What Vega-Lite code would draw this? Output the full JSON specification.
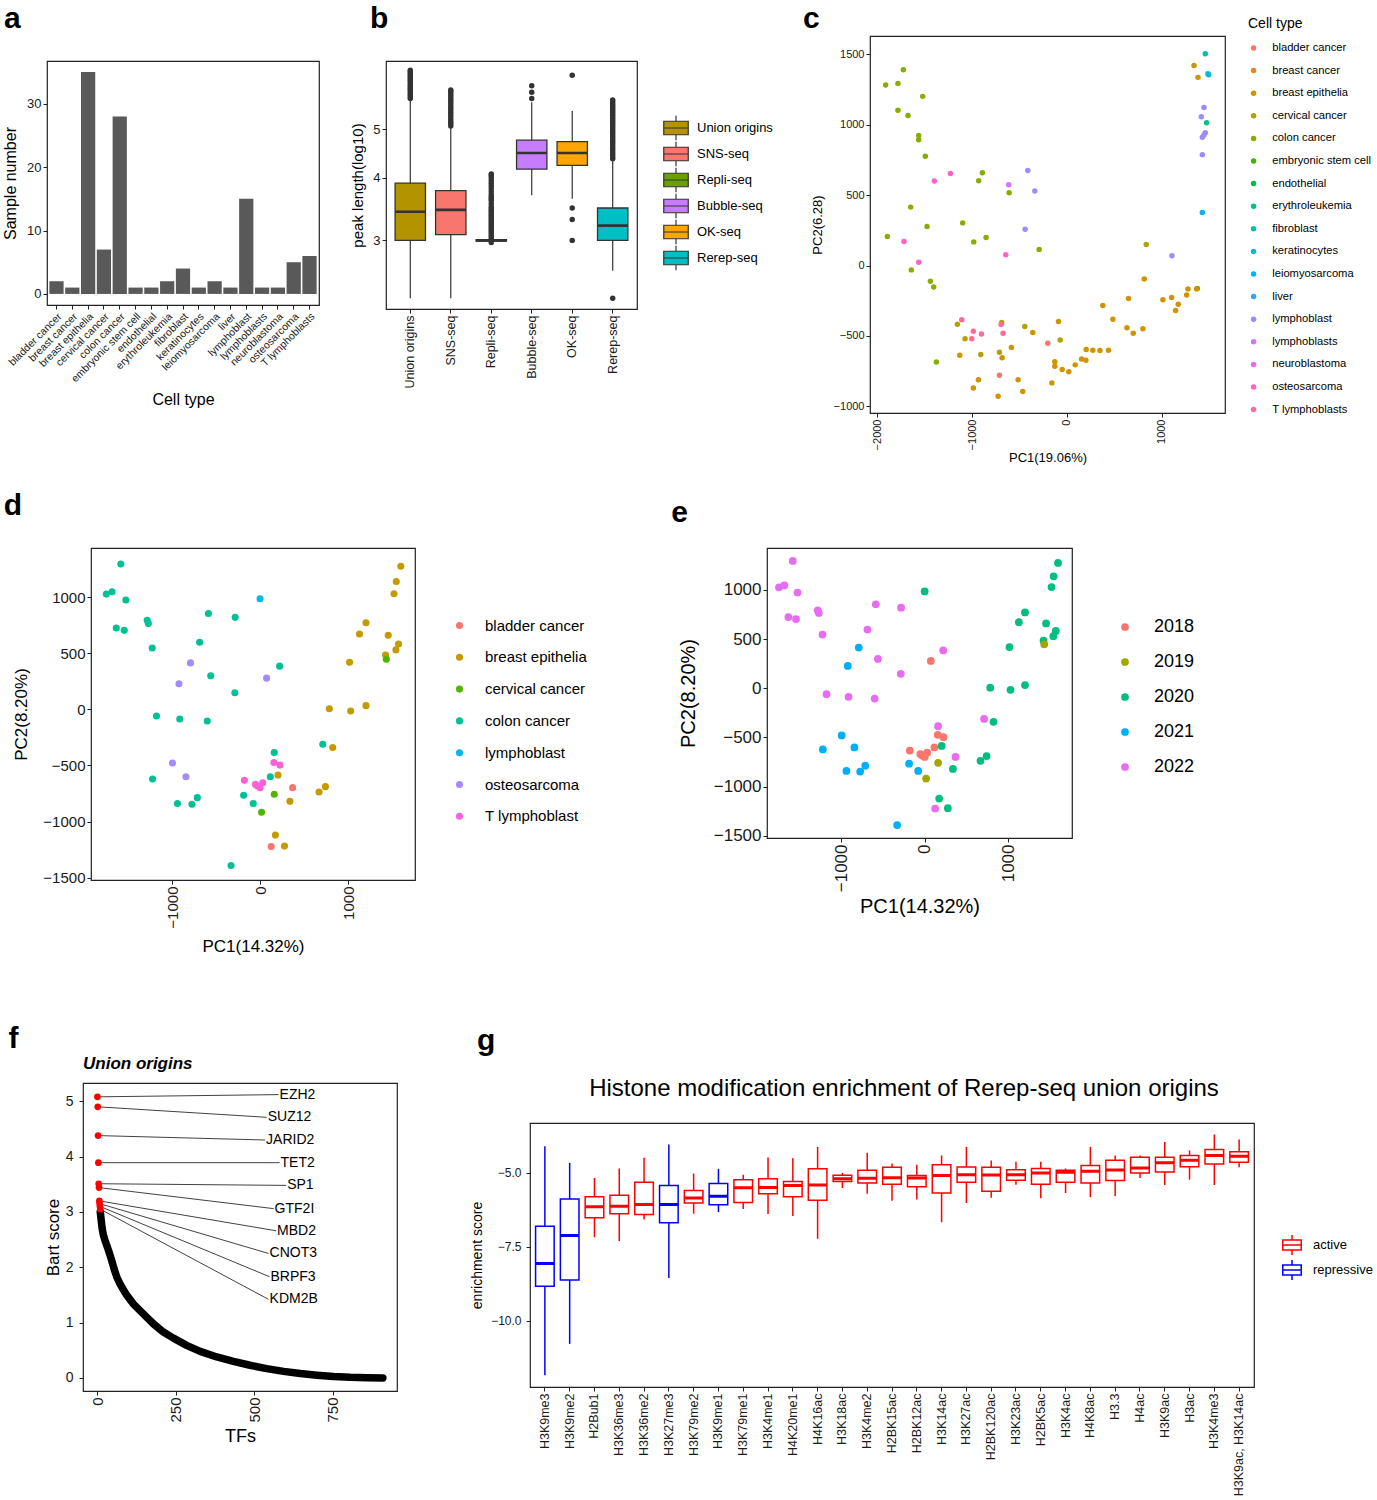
{
"$schema": "https://vega.github.io/schema/vega-lite/v6.json",
"background": "white",
"padding": {"left": 0, "top": 3, "right": 0, "bottom": 0},
"config": {
  "font": "Liberation Sans",
  "view": {"stroke": "#222", "strokeWidth": 1.2},
  "axis": {"grid": false, "domain": false, "tickColor": "#222", "tickSize": 4, "labelColor": "#1a1a1a", "titleColor": "#000", "titleFontWeight": "normal", "labelPadding": 2},
  "legend": {"titleFontWeight": "normal", "labelColor": "#000"},
  "title": {"fontSize": 30, "fontWeight": "bold", "anchor": "start", "frame": "bounds", "color": "#000"}
},
"datasets": {
  "a": [
    {"cell":"bladder cancer","n":2},{"cell":"breast cancer","n":1},{"cell":"breast epithelia","n":35},{"cell":"cervical cancer","n":7},{"cell":"colon cancer","n":28},{"cell":"embryonic stem cell","n":1},{"cell":"endothelial","n":1},{"cell":"erythroleukemia","n":2},{"cell":"fibroblast","n":4},{"cell":"keratinocytes","n":1},{"cell":"leiomyosarcoma","n":2},{"cell":"liver","n":1},{"cell":"lymphoblast","n":15},{"cell":"lymphoblasts","n":1},{"cell":"neuroblastoma","n":1},{"cell":"osteosarcoma","n":5},{"cell":"T lymphoblasts","n":6}
  ],
  "bbox": [
    {"method":"Union origins","lower":2.30,"q1":3.0,"median":3.42,"q3":3.90,"upper":5.72},
    {"method":"SNS-seq","lower":2.30,"q1":3.08,"median":3.45,"q3":3.77,"upper":5.05},
    {"method":"Repli-seq","lower":3.0,"q1":2.99,"median":3.0,"q3":3.01,"upper":3.0},
    {"method":"Bubble-seq","lower":3.69,"q1":4.16,"median":4.48,"q3":4.75,"upper":5.65},
    {"method":"OK-seq","lower":3.63,"q1":4.23,"median":4.48,"q3":4.72,"upper":5.43},
    {"method":"Rerep-seq","lower":2.61,"q1":3.0,"median":3.21,"q3":3.48,"upper":4.33}
  ],
  "bout": [
    {"method":"Union origins","v":5.75},{"method":"Union origins","v":5.8},{"method":"Union origins","v":5.85},{"method":"Union origins","v":5.9},{"method":"Union origins","v":5.95},{"method":"Union origins","v":6.0},{"method":"Union origins","v":6.05},{"method":"Union origins","v":6.1},{"method":"Union origins","v":6.15},{"method":"Union origins","v":6.2},{"method":"Union origins","v":6.25},{"method":"Union origins","v":6.3},{"method":"Union origins","v":6.35},{"method":"Union origins","v":6.4},{"method":"Union origins","v":6.45},{"method":"Union origins","v":6.5},{"method":"Union origins","v":6.55},
    {"method":"SNS-seq","v":5.07},{"method":"SNS-seq","v":5.12},{"method":"SNS-seq","v":5.17},{"method":"SNS-seq","v":5.22},{"method":"SNS-seq","v":5.28},{"method":"SNS-seq","v":5.34},{"method":"SNS-seq","v":5.4},{"method":"SNS-seq","v":5.46},{"method":"SNS-seq","v":5.52},{"method":"SNS-seq","v":5.58},{"method":"SNS-seq","v":5.64},{"method":"SNS-seq","v":5.7},{"method":"SNS-seq","v":5.76},{"method":"SNS-seq","v":5.82},{"method":"SNS-seq","v":5.88},{"method":"SNS-seq","v":5.94},{"method":"SNS-seq","v":5.98},
    {"method":"Repli-seq","v":2.97},{"method":"Repli-seq","v":3.02},{"method":"Repli-seq","v":3.05},{"method":"Repli-seq","v":3.08},{"method":"Repli-seq","v":3.11},{"method":"Repli-seq","v":3.14},{"method":"Repli-seq","v":3.17},{"method":"Repli-seq","v":3.2},{"method":"Repli-seq","v":3.23},{"method":"Repli-seq","v":3.26},{"method":"Repli-seq","v":3.29},{"method":"Repli-seq","v":3.32},{"method":"Repli-seq","v":3.35},{"method":"Repli-seq","v":3.38},{"method":"Repli-seq","v":3.41},{"method":"Repli-seq","v":3.44},{"method":"Repli-seq","v":3.47},{"method":"Repli-seq","v":3.5},{"method":"Repli-seq","v":3.55},{"method":"Repli-seq","v":3.6},{"method":"Repli-seq","v":3.63},{"method":"Repli-seq","v":3.66},{"method":"Repli-seq","v":3.7},{"method":"Repli-seq","v":3.75},{"method":"Repli-seq","v":3.8},{"method":"Repli-seq","v":3.85},{"method":"Repli-seq","v":3.9},{"method":"Repli-seq","v":3.95},{"method":"Repli-seq","v":4.0},{"method":"Repli-seq","v":4.04},{"method":"Repli-seq","v":4.07},
    {"method":"Bubble-seq","v":5.75},{"method":"Bubble-seq","v":5.92},{"method":"Bubble-seq","v":6.1},
    {"method":"OK-seq","v":6.4},{"method":"OK-seq","v":3.48},{"method":"OK-seq","v":3.3},{"method":"OK-seq","v":3.0},
    {"method":"Rerep-seq","v":4.36},{"method":"Rerep-seq","v":4.4},{"method":"Rerep-seq","v":4.45},{"method":"Rerep-seq","v":4.5},{"method":"Rerep-seq","v":4.55},{"method":"Rerep-seq","v":4.6},{"method":"Rerep-seq","v":4.65},{"method":"Rerep-seq","v":4.7},{"method":"Rerep-seq","v":4.75},{"method":"Rerep-seq","v":4.8},{"method":"Rerep-seq","v":4.85},{"method":"Rerep-seq","v":4.9},{"method":"Rerep-seq","v":4.95},{"method":"Rerep-seq","v":5.0},{"method":"Rerep-seq","v":5.05},{"method":"Rerep-seq","v":5.1},{"method":"Rerep-seq","v":5.15},{"method":"Rerep-seq","v":5.2},{"method":"Rerep-seq","v":5.25},{"method":"Rerep-seq","v":5.3},{"method":"Rerep-seq","v":5.35},{"method":"Rerep-seq","v":5.4},{"method":"Rerep-seq","v":5.45},{"method":"Rerep-seq","v":5.5},{"method":"Rerep-seq","v":5.55},{"method":"Rerep-seq","v":5.6},{"method":"Rerep-seq","v":5.66},{"method":"Rerep-seq","v":5.71},{"method":"Rerep-seq","v":2.30}
  ],
  "c": [
    {"pc1":-1912,"pc2":1282,"cell":"colon cancer"},{"pc1":-1782,"pc2":1294,"cell":"colon cancer"},{"pc1":-1725,"pc2":1391,"cell":"colon cancer"},{"pc1":-1521,"pc2":1202,"cell":"colon cancer"},{"pc1":-1782,"pc2":1104,"cell":"colon cancer"},{"pc1":-1676,"pc2":1066,"cell":"colon cancer"},{"pc1":-1563,"pc2":924,"cell":"colon cancer"},{"pc1":-1563,"pc2":893,"cell":"colon cancer"},{"pc1":-1493,"pc2":777,"cell":"colon cancer"},{"pc1":-1648,"pc2":415,"cell":"colon cancer"},{"pc1":-1894,"pc2":206,"cell":"colon cancer"},{"pc1":-1475,"pc2":277,"cell":"colon cancer"},{"pc1":-1641,"pc2":-31,"cell":"colon cancer"},{"pc1":-1440,"pc2":-111,"cell":"colon cancer"},{"pc1":-1405,"pc2":-152,"cell":"colon cancer"},{"pc1":-891,"pc2":659,"cell":"colon cancer"},{"pc1":-930,"pc2":602,"cell":"colon cancer"},{"pc1":-609,"pc2":517,"cell":"colon cancer"},{"pc1":-1099,"pc2":303,"cell":"colon cancer"},{"pc1":-982,"pc2":168,"cell":"colon cancer"},{"pc1":-852,"pc2":199,"cell":"colon cancer"},{"pc1":-292,"pc2":114,"cell":"colon cancer"},{"pc1":-1377,"pc2":-685,"cell":"colon cancer"},
    {"pc1":-1155,"pc2":-417,"cell":"cervical cancer"},{"pc1":-1074,"pc2":-521,"cell":"cervical cancer"},{"pc1":-908,"pc2":-633,"cell":"cervical cancer"},{"pc1":-711,"pc2":-616,"cell":"cervical cancer"},{"pc1":-687,"pc2":-405,"cell":"cervical cancer"},{"pc1":-444,"pc2":-434,"cell":"cervical cancer"},{"pc1":-70,"pc2":-529,"cell":"cervical cancer"},{"pc1":838,"pc2":149,"cell":"cervical cancer"},
    {"pc1":-1398,"pc2":600,"cell":"osteosarcoma"},{"pc1":-1229,"pc2":654,"cell":"osteosarcoma"},{"pc1":-1718,"pc2":171,"cell":"osteosarcoma"},{"pc1":-1563,"pc2":24,"cell":"osteosarcoma"},{"pc1":-644,"pc2":76,"cell":"osteosarcoma"},
    {"pc1":-1109,"pc2":-386,"cell":"T lymphoblasts"},{"pc1":-986,"pc2":-467,"cell":"T lymphoblasts"},{"pc1":-1003,"pc2":-521,"cell":"T lymphoblasts"},{"pc1":-901,"pc2":-486,"cell":"T lymphoblasts"},{"pc1":-694,"pc2":-419,"cell":"T lymphoblasts"},{"pc1":-673,"pc2":-481,"cell":"T lymphoblasts"},
    {"pc1":-201,"pc2":-552,"cell":"bladder cancer"},{"pc1":-711,"pc2":-780,"cell":"bladder cancer"},
    {"pc1":-412,"pc2":675,"cell":"lymphoblast"},{"pc1":-338,"pc2":529,"cell":"lymphoblast"},{"pc1":-440,"pc2":258,"cell":"lymphoblast"},{"pc1":1109,"pc2":69,"cell":"lymphoblast"},{"pc1":1447,"pc2":1123,"cell":"lymphoblast"},{"pc1":1419,"pc2":1057,"cell":"lymphoblast"},{"pc1":1461,"pc2":943,"cell":"lymphoblast"},{"pc1":1447,"pc2":927,"cell":"lymphoblast"},{"pc1":1430,"pc2":912,"cell":"lymphoblast"},{"pc1":1430,"pc2":787,"cell":"lymphoblast"},
    {"pc1":-613,"pc2":574,"cell":"lymphoblasts"},
    {"pc1":1461,"pc2":1505,"cell":"fibroblast"},{"pc1":1496,"pc2":1356,"cell":"fibroblast"},
    {"pc1":1489,"pc2":1363,"cell":"keratinocytes"},
    {"pc1":1475,"pc2":1014,"cell":"erythroleukemia"},
    {"pc1":1430,"pc2":377,"cell":"leiomyosarcoma"},
    {"pc1":1377,"pc2":-164,"cell":"embryonic stem cell"},
    {"pc1":1342,"pc2":1422,"cell":"breast epithelia"},{"pc1":1384,"pc2":1337,"cell":"breast epithelia"},{"pc1":-1130,"pc2":-638,"cell":"breast epithelia"},{"pc1":-933,"pc2":-811,"cell":"breast epithelia"},{"pc1":-986,"pc2":-870,"cell":"breast epithelia"},{"pc1":-585,"pc2":-583,"cell":"breast epithelia"},{"pc1":-683,"pc2":-656,"cell":"breast epithelia"},{"pc1":-725,"pc2":-929,"cell":"breast epithelia"},{"pc1":-514,"pc2":-811,"cell":"breast epithelia"},{"pc1":-465,"pc2":-896,"cell":"breast epithelia"},{"pc1":-359,"pc2":-476,"cell":"breast epithelia"},{"pc1":-88,"pc2":-398,"cell":"breast epithelia"},{"pc1":-158,"pc2":-834,"cell":"breast epithelia"},{"pc1":-127,"pc2":-683,"cell":"breast epithelia"},{"pc1":-127,"pc2":-716,"cell":"breast epithelia"},{"pc1":-49,"pc2":-739,"cell":"breast epithelia"},{"pc1":21,"pc2":-754,"cell":"breast epithelia"},{"pc1":88,"pc2":-706,"cell":"breast epithelia"},{"pc1":155,"pc2":-664,"cell":"breast epithelia"},{"pc1":201,"pc2":-673,"cell":"breast epithelia"},{"pc1":204,"pc2":-597,"cell":"breast epithelia"},{"pc1":275,"pc2":-602,"cell":"breast epithelia"},{"pc1":349,"pc2":-604,"cell":"breast epithelia"},{"pc1":440,"pc2":-602,"cell":"breast epithelia"},{"pc1":380,"pc2":-284,"cell":"breast epithelia"},{"pc1":486,"pc2":-382,"cell":"breast epithelia"},{"pc1":634,"pc2":-443,"cell":"breast epithelia"},{"pc1":651,"pc2":-235,"cell":"breast epithelia"},{"pc1":701,"pc2":-481,"cell":"breast epithelia"},{"pc1":803,"pc2":-450,"cell":"breast epithelia"},{"pc1":817,"pc2":-95,"cell":"breast epithelia"},{"pc1":1014,"pc2":-244,"cell":"breast epithelia"},{"pc1":1106,"pc2":-228,"cell":"breast epithelia"},{"pc1":1148,"pc2":-320,"cell":"breast epithelia"},{"pc1":1176,"pc2":-275,"cell":"breast epithelia"},{"pc1":1264,"pc2":-209,"cell":"breast epithelia"},{"pc1":1278,"pc2":-166,"cell":"breast epithelia"},{"pc1":1370,"pc2":-166,"cell":"breast epithelia"}
  ],
  "de": [
    {"pc1":-1583,"pc2":1296,"cell":"colon cancer","year":"2022"},{"pc1":-1748,"pc2":1027,"cell":"colon cancer","year":"2022"},{"pc1":-1683,"pc2":1047,"cell":"colon cancer","year":"2022"},{"pc1":-1526,"pc2":974,"cell":"colon cancer","year":"2022"},{"pc1":-1635,"pc2":725,"cell":"colon cancer","year":"2022"},{"pc1":-1544,"pc2":704,"cell":"colon cancer","year":"2022"},{"pc1":-1283,"pc2":793,"cell":"colon cancer","year":"2022"},{"pc1":-1270,"pc2":766,"cell":"colon cancer","year":"2022"},{"pc1":-1226,"pc2":547,"cell":"colon cancer","year":"2022"},{"pc1":-587,"pc2":855,"cell":"colon cancer","year":"2022"},{"pc1":-283,"pc2":820,"cell":"colon cancer","year":"2022"},{"pc1":-687,"pc2":598,"cell":"colon cancer","year":"2022"},{"pc1":-561,"pc2":299,"cell":"colon cancer","year":"2022"},{"pc1":-287,"pc2":148,"cell":"colon cancer","year":"2022"},{"pc1":-1178,"pc2":-59,"cell":"colon cancer","year":"2022"},{"pc1":-913,"pc2":-86,"cell":"colon cancer","year":"2022"},{"pc1":-600,"pc2":-104,"cell":"colon cancer","year":"2022"},{"pc1":222,"pc2":385,"cell":"colon cancer","year":"2022"},{"pc1":-1222,"pc2":-621,"cell":"colon cancer","year":"2021"},{"pc1":-939,"pc2":-840,"cell":"colon cancer","year":"2021"},{"pc1":-774,"pc2":-846,"cell":"colon cancer","year":"2021"},{"pc1":-713,"pc2":-787,"cell":"colon cancer","year":"2021"},{"pc1":-187,"pc2":-766,"cell":"colon cancer","year":"2021"},{"pc1":-78,"pc2":-840,"cell":"colon cancer","year":"2021"},{"pc1":117,"pc2":-601,"cell":"colon cancer","year":"2018"},{"pc1":161,"pc2":-385,"cell":"colon cancer","year":"2022"},{"pc1":713,"pc2":-311,"cell":"colon cancer","year":"2022"},{"pc1":-330,"pc2":-1391,"cell":"colon cancer","year":"2021"},
    {"pc1":0,"pc2":985,"cell":"lymphoblast","year":"2020"},
    {"pc1":-791,"pc2":414,"cell":"osteosarcoma","year":"2021"},{"pc1":-922,"pc2":228,"cell":"osteosarcoma","year":"2021"},{"pc1":74,"pc2":278,"cell":"osteosarcoma","year":"2018"},{"pc1":-996,"pc2":-479,"cell":"osteosarcoma","year":"2021"},{"pc1":-843,"pc2":-601,"cell":"osteosarcoma","year":"2021"},
    {"pc1":1600,"pc2":1275,"cell":"breast epithelia","year":"2020"},{"pc1":1548,"pc2":1139,"cell":"breast epithelia","year":"2020"},{"pc1":1522,"pc2":1030,"cell":"breast epithelia","year":"2020"},{"pc1":1204,"pc2":772,"cell":"breast epithelia","year":"2020"},{"pc1":1130,"pc2":672,"cell":"breast epithelia","year":"2020"},{"pc1":1457,"pc2":660,"cell":"breast epithelia","year":"2020"},{"pc1":1574,"pc2":583,"cell":"breast epithelia","year":"2020"},{"pc1":1544,"pc2":530,"cell":"breast epithelia","year":"2020"},{"pc1":1426,"pc2":485,"cell":"breast epithelia","year":"2020"},{"pc1":1017,"pc2":420,"cell":"breast epithelia","year":"2020"},{"pc1":787,"pc2":6,"cell":"breast epithelia","year":"2020"},{"pc1":1030,"pc2":-15,"cell":"breast epithelia","year":"2020"},{"pc1":1204,"pc2":33,"cell":"breast epithelia","year":"2020"},{"pc1":826,"pc2":-340,"cell":"breast epithelia","year":"2020"},{"pc1":743,"pc2":-689,"cell":"breast epithelia","year":"2020"},{"pc1":670,"pc2":-737,"cell":"breast epithelia","year":"2020"},{"pc1":339,"pc2":-820,"cell":"breast epithelia","year":"2020"},{"pc1":204,"pc2":-586,"cell":"breast epithelia","year":"2020"},{"pc1":174,"pc2":-1121,"cell":"breast epithelia","year":"2020"},{"pc1":278,"pc2":-1219,"cell":"breast epithelia","year":"2020"},
    {"pc1":1435,"pc2":447,"cell":"cervical cancer","year":"2019"},{"pc1":161,"pc2":-757,"cell":"cervical cancer","year":"2019"},{"pc1":17,"pc2":-917,"cell":"cervical cancer","year":"2019"},
    {"pc1":370,"pc2":-698,"cell":"bladder cancer","year":"2022"},{"pc1":126,"pc2":-1222,"cell":"bladder cancer","year":"2022"},
    {"pc1":-178,"pc2":-633,"cell":"T lymphoblast","year":"2018"},{"pc1":-52,"pc2":-669,"cell":"T lymphoblast","year":"2018"},{"pc1":0,"pc2":-698,"cell":"T lymphoblast","year":"2018"},{"pc1":30,"pc2":-654,"cell":"T lymphoblast","year":"2018"},{"pc1":157,"pc2":-473,"cell":"T lymphoblast","year":"2018"},{"pc1":226,"pc2":-497,"cell":"T lymphoblast","year":"2018"},{"pc1":-30,"pc2":-684,"cell":"T lymphoblast","year":"2018"}
  ],
  "fcurve": [
    {"rank":10,"score":3.0},{"rank":13,"score":2.85},{"rank":16,"score":2.7},{"rank":20,"score":2.58},{"rank":26,"score":2.47},{"rank":33,"score":2.36},{"rank":40,"score":2.24},{"rank":47,"score":2.11},{"rank":55,"score":1.95},{"rank":63,"score":1.82},{"rank":72,"score":1.71},{"rank":83,"score":1.6},{"rank":94,"score":1.5},{"rank":115,"score":1.34},{"rank":147,"score":1.16},{"rank":179,"score":0.98},{"rank":211,"score":0.83},{"rank":243,"score":0.72},{"rank":285,"score":0.59},{"rank":328,"score":0.48},{"rank":381,"score":0.38},{"rank":434,"score":0.3},{"rank":487,"score":0.23},{"rank":540,"score":0.17},{"rank":594,"score":0.12},{"rank":647,"score":0.08},{"rank":700,"score":0.05},{"rank":753,"score":0.025},{"rank":806,"score":0.012},{"rank":860,"score":0.006},{"rank":910,"score":0.0}
  ],
  "ftop": [
    {"rank":1,"score":5.08,"tf":"EZH2","lx":578,"ly":5.12},
    {"rank":2,"score":4.9,"tf":"SUZ12","lx":540,"ly":4.71},
    {"rank":3,"score":4.38,"tf":"JARID2","lx":535,"ly":4.3},
    {"rank":4,"score":3.89,"tf":"TET2","lx":581,"ly":3.89},
    {"rank":5,"score":3.51,"tf":"SP1","lx":602,"ly":3.48},
    {"rank":6,"score":3.44,"tf":"GTF2I","lx":562,"ly":3.06},
    {"rank":7,"score":3.2,"tf":"MBD2","lx":570,"ly":2.66},
    {"rank":8,"score":3.15,"tf":"CNOT3","lx":546,"ly":2.25},
    {"rank":9,"score":3.1,"tf":"BRPF3","lx":549,"ly":1.83},
    {"rank":10,"score":3.05,"tf":"KDM2B","lx":546,"ly":1.42}
  ],
  "g": [
    {"mark":"H3K9me3","type":"repressive","lower":-11.85,"q1":-8.84,"median":-8.07,"q3":-6.81,"upper":-4.10},
    {"mark":"H3K9me2","type":"repressive","lower":-10.79,"q1":-8.63,"median":-7.12,"q3":-5.88,"upper":-4.66},
    {"mark":"H2Bub1","type":"active","lower":-7.18,"q1":-6.52,"median":-6.15,"q3":-5.81,"upper":-5.17},
    {"mark":"H3K36me3","type":"active","lower":-7.31,"q1":-6.38,"median":-6.13,"q3":-5.76,"upper":-4.85},
    {"mark":"H3K36me2","type":"active","lower":-6.58,"q1":-6.41,"median":-6.07,"q3":-5.32,"upper":-4.49},
    {"mark":"H3K27me3","type":"repressive","lower":-8.56,"q1":-6.69,"median":-6.07,"q3":-5.43,"upper":-4.04},
    {"mark":"H3K79me2","type":"active","lower":-6.38,"q1":-6.02,"median":-5.85,"q3":-5.60,"upper":-5.02},
    {"mark":"H3K9me1","type":"repressive","lower":-6.33,"q1":-6.08,"median":-5.79,"q3":-5.36,"upper":-4.86},
    {"mark":"H3K79me1","type":"active","lower":-6.22,"q1":-6.00,"median":-5.50,"q3":-5.23,"upper":-5.06},
    {"mark":"H3K4me1","type":"active","lower":-6.39,"q1":-5.71,"median":-5.49,"q3":-5.20,"upper":-4.48},
    {"mark":"H4K20me1","type":"active","lower":-6.46,"q1":-5.81,"median":-5.43,"q3":-5.29,"upper":-4.50},
    {"mark":"H4K16ac","type":"active","lower":-7.23,"q1":-5.93,"median":-5.41,"q3":-4.86,"upper":-4.12},
    {"mark":"H3K18ac","type":"active","lower":-5.51,"q1":-5.29,"median":-5.20,"q3":-5.08,"upper":-5.00},
    {"mark":"H3K4me2","type":"active","lower":-5.71,"q1":-5.34,"median":-5.18,"q3":-4.91,"upper":-4.32},
    {"mark":"H2BK15ac","type":"active","lower":-5.94,"q1":-5.38,"median":-5.16,"q3":-4.81,"upper":-4.68},
    {"mark":"H2BK12ac","type":"active","lower":-5.90,"q1":-5.47,"median":-5.17,"q3":-5.09,"upper":-4.72},
    {"mark":"H3K14ac","type":"active","lower":-6.67,"q1":-5.68,"median":-5.09,"q3":-4.72,"upper":-4.41},
    {"mark":"H3K27ac","type":"active","lower":-6.02,"q1":-5.32,"median":-5.06,"q3":-4.80,"upper":-4.12},
    {"mark":"H2BK120ac","type":"active","lower":-5.84,"q1":-5.62,"median":-5.07,"q3":-4.81,"upper":-4.58},
    {"mark":"H3K23ac","type":"active","lower":-5.40,"q1":-5.25,"median":-5.06,"q3":-4.89,"upper":-4.62},
    {"mark":"H2BK5ac","type":"active","lower":-5.86,"q1":-5.38,"median":-5.00,"q3":-4.85,"upper":-4.62},
    {"mark":"H3K4ac","type":"active","lower":-5.68,"q1":-5.32,"median":-4.98,"q3":-4.91,"upper":-4.85},
    {"mark":"H4K8ac","type":"active","lower":-5.82,"q1":-5.34,"median":-4.94,"q3":-4.75,"upper":-4.12},
    {"mark":"H3.3","type":"active","lower":-5.79,"q1":-5.26,"median":-4.90,"q3":-4.57,"upper":-4.41},
    {"mark":"H4ac","type":"active","lower":-5.17,"q1":-5.00,"median":-4.83,"q3":-4.47,"upper":-4.41},
    {"mark":"H3K9ac","type":"active","lower":-5.41,"q1":-4.97,"median":-4.66,"q3":-4.47,"upper":-3.95},
    {"mark":"H3ac","type":"active","lower":-5.23,"q1":-4.79,"median":-4.57,"q3":-4.41,"upper":-4.24},
    {"mark":"H3K4me3","type":"active","lower":-5.41,"q1":-4.70,"median":-4.41,"q3":-4.21,"upper":-3.70},
    {"mark":"H3K9ac, H3K14ac","type":"active","lower":-4.81,"q1":-4.64,"median":-4.44,"q3":-4.28,"upper":-3.87}
  ]
},
"resolve": {"scale": {"x": "independent", "y": "independent", "color": "independent", "fill": "independent", "stroke": "independent"}, "legend": {"color": "independent", "fill": "independent", "stroke": "independent"}},
"spacing": 69,
"vconcat": [
  {
    "spacing": 24,
    "resolve": {"scale": {"x": "independent", "y": "independent", "color": "independent", "fill": "independent"}, "legend": {"color": "independent", "fill": "independent"}},
    "vconcat": [
      {
        "spacing": 0,
        "resolve": {"scale": {"x": "independent", "y": "independent", "color": "independent", "fill": "independent"}, "legend": {"color": "independent", "fill": "independent"}},
        "hconcat": [
          {"width": 1, "height": 4, "data": {"values": []}, "mark": "point", "view": {"stroke": null}},
          {
            "spacing": 20,
            "resolve": {"scale": {"x": "independent", "y": "independent", "fill": "independent"}, "legend": {"fill": "independent"}},
            "vconcat": [
              {
                "spacing": 10,
                "hconcat": [
                  {"title": {"text": "a", "offset": 2, "dx": -43}, "width": 313, "height": 4, "data": {"values": []}, "mark": "point", "view": {"stroke": null}},
                  {"title": {"text": "b", "offset": 2}, "width": 4, "height": 4, "data": {"values": []}, "mark": "point", "view": {"stroke": null}}
                ]
              },
              {
                "spacing": 30,
                "resolve": {"scale": {"x": "independent", "y": "independent", "fill": "independent"}, "legend": {"fill": "independent"}},
                "hconcat": [
                  {
                    "width": 272, "height": 244,
                    "data": {"name": "a"},
                    "mark": {"type": "bar", "color": "#595959"},
                    "encoding": {
                      "x": {"field": "cell", "type": "nominal", "sort": null, "scale": {"paddingInner": 0.1, "paddingOuter": 0.15},
                            "axis": {"labelAngle": -45, "labelFontSize": 10.5, "title": "Cell type", "titleFontSize": 16, "titlePadding": 7}},
                      "y": {"field": "n", "type": "quantitative", "scale": {"domain": [-1.75, 36.75], "nice": false},
                            "axis": {"values": [0, 10, 20, 30], "labelFontSize": 13, "title": "Sample number", "titleFontSize": 16, "titlePadding": 8}}
                    }
                  },
                  {
                    "width": 251, "height": 248,
                    "layer": [
                      {
                        "data": {"name": "bbox"},
                        "mark": {"type": "rule", "color": "#333", "strokeWidth": 1.2},
                        "encoding": {
                          "x": {"field": "method", "type": "nominal", "sort": null},
                          "y": {"field": "lower", "type": "quantitative"},
                          "y2": {"field": "upper"}
                        }
                      },
                      {
                        "data": {"name": "bbox"},
                        "mark": {"type": "bar", "stroke": "#333", "strokeWidth": 1.3},
                        "encoding": {
                          "x": {"field": "method", "type": "nominal", "sort": null},
                          "y": {"field": "q1", "type": "quantitative"},
                          "y2": {"field": "q3"},
                          "fill": {"field": "method", "type": "nominal", "sort": null,
                                   "scale": {"domain": ["Union origins", "SNS-seq", "Repli-seq", "Bubble-seq", "OK-seq", "Rerep-seq"], "range": ["#B39300", "#F8766D", "#6BA000", "#C77CFF", "#FFA500", "#00BFC4"]},
                                   "legend": {"title": null, "orient": "none", "legendX": 277, "legendY": 54, "labelFontSize": 13, "symbolType": "M-1,-0.55H1V0.55H-1Z M-1,0H1 M0,-0.55V-1 M0,0.55V1", "symbolSize": 600, "symbolStrokeColor": "#333", "symbolStrokeWidth": 1.2, "rowPadding": 0, "clipHeight": 26, "labelOffset": 8}}
                        }
                      },
                      {
                        "data": {"name": "bbox"},
                        "mark": {"type": "bar", "fill": null, "stroke": "#333", "strokeWidth": 2.6},
                        "encoding": {
                          "x": {"field": "method", "type": "nominal", "sort": null},
                          "y": {"field": "median", "type": "quantitative"},
                          "y2": {"field": "median"}
                        }
                      },
                      {
                        "data": {"name": "bout"},
                        "mark": {"type": "circle", "color": "#333", "size": 30, "opacity": 1},
                        "encoding": {
                          "x": {"field": "method", "type": "nominal", "sort": null},
                          "y": {"field": "v", "type": "quantitative"}
                        }
                      }
                    ],
                    "encoding": {
                      "x": {"field": "method", "type": "nominal",
                            "scale": {"domain": ["Union origins", "SNS-seq", "Repli-seq", "Bubble-seq", "OK-seq", "Rerep-seq"], "paddingInner": 0.25, "paddingOuter": 0.225},
                            "axis": {"labelAngle": -90, "labelFontSize": 12.5, "title": null}},
                      "y": {"type": "quantitative", "scale": {"type": "log", "domain": [2.19, 6.83], "nice": false},
                            "axis": {"values": [3, 4, 5], "labelFontSize": 13, "title": "peak length(log10)", "titleFontSize": 15, "titlePadding": 7}}
                    }
                  }
                ]
              }
            ]
          },
          {"width": 28, "height": 4, "data": {"values": []}, "mark": "point", "view": {"stroke": null}},
          {
            "title": {"text": "c", "offset": -17, "dx": -8},
            "width": 355, "height": 377,
            "data": {"name": "c"},
            "mark": {"type": "circle", "size": 30, "opacity": 1},
            "encoding": {
              "x": {"field": "pc1", "type": "quantitative", "scale": {"domain": [-2077, 1669], "nice": false, "zero": false},
                    "axis": {"values": [-2000, -1000, 0, 1000], "format": "d", "labelAngle": -90, "labelFontSize": 11, "title": "PC1(19.06%)", "titleFontSize": 13, "titlePadding": 2}},
              "y": {"field": "pc2", "type": "quantitative", "scale": {"domain": [-1048, 1631], "nice": false, "zero": false},
                    "axis": {"values": [-1000, -500, 0, 500, 1000, 1500], "format": "d", "labelFontSize": 11, "title": "PC2(6.28)", "titleFontSize": 13, "titlePadding": 9}},
              "color": {"field": "cell", "type": "nominal",
                        "scale": {"domain": ["bladder cancer", "breast cancer", "breast epithelia", "cervical cancer", "colon cancer", "embryonic stem cell", "endothelial", "erythroleukemia", "fibroblast", "keratinocytes", "leiomyosarcoma", "liver", "lymphoblast", "lymphoblasts", "neuroblastoma", "osteosarcoma", "T lymphoblasts"],
                                  "range": ["#F8766D", "#E7851E", "#D09400", "#B2A100", "#89AC00", "#45B500", "#00BC4E", "#00C088", "#00C0B0", "#00BCD8", "#00B3F2", "#35A2FF", "#9D8CFF", "#D176FC", "#F266E8", "#FF61C9", "#FF6A98"]},
                        "legend": {"title": "Cell type", "titleFontSize": 14, "labelFontSize": 11.2, "symbolSize": 30, "symbolType": "circle", "orient": "none", "legendX": 378, "legendY": -19, "rowPadding": 10.6, "clipHeight": 12, "labelOffset": 13, "titlePadding": 11}}
            }
          }
        ]
      },
      {
        "spacing": 0,
        "resolve": {"scale": {"x": "independent", "y": "independent", "color": "independent"}, "legend": {"color": "independent"}},
        "hconcat": [
          {"width": 3, "height": 4, "data": {"values": []}, "mark": "point", "view": {"stroke": null}},
          {
            "title": {"text": "d", "offset": 27, "dx": -9},
            "width": 324, "height": 332,
            "data": {"name": "de"},
            "mark": {"type": "circle", "size": 50, "opacity": 1},
            "encoding": {
              "x": {"field": "pc1", "type": "quantitative", "scale": {"domain": [-1922, 1761], "nice": false, "zero": false},
                    "axis": {"values": [-1000, 0, 1000], "format": "d", "labelAngle": -90, "labelFontSize": 15, "title": "PC1(14.32%)", "titleFontSize": 17, "titlePadding": 10}},
              "y": {"field": "pc2", "type": "quantitative", "scale": {"domain": [-1521, 1438], "nice": false, "zero": false},
                    "axis": {"values": [-1500, -1000, -500, 0, 500, 1000], "format": "d", "labelFontSize": 15, "title": "PC2(8.20%)", "titleFontSize": 17, "titlePadding": 12}},
              "color": {"field": "cell", "type": "nominal",
                        "scale": {"domain": ["bladder cancer", "breast epithelia", "cervical cancer", "colon cancer", "lymphoblast", "osteosarcoma", "T lymphoblast"],
                                  "range": ["#F8766D", "#C49A00", "#53B400", "#00C094", "#00B6EB", "#A58AFF", "#FB61D7"]},
                        "legend": {"title": null, "labelFontSize": 15, "symbolSize": 50, "symbolType": "circle", "orient": "none", "legendX": 361, "legendY": 70, "rowPadding": 15.8, "clipHeight": 15, "labelOffset": 18}}
            }
          },
          {"width": 82, "height": 4, "data": {"values": []}, "mark": "point", "view": {"stroke": null}},
          {
            "title": {"text": "e", "offset": 20, "dx": -7},
            "width": 305, "height": 290,
            "data": {"name": "de"},
            "mark": {"type": "circle", "size": 60, "opacity": 1},
            "encoding": {
              "x": {"field": "pc1", "type": "quantitative", "scale": {"domain": [-1892, 1768], "nice": false, "zero": false},
                    "axis": {"values": [-1000, 0, 1000], "format": "d", "labelAngle": -90, "labelFontSize": 17, "title": "PC1(14.32%)", "titleFontSize": 20, "titlePadding": 5}},
              "y": {"field": "pc2", "type": "quantitative", "scale": {"domain": [-1522, 1427], "nice": false, "zero": false},
                    "axis": {"values": [-1500, -1000, -500, 0, 500, 1000], "format": "d", "labelFontSize": 17, "title": "PC2(8.20%)", "titleFontSize": 20, "titlePadding": 15}},
              "color": {"field": "year", "type": "nominal",
                        "scale": {"domain": ["2018", "2019", "2020", "2021", "2022"], "range": ["#F8766D", "#A3A500", "#00BF7D", "#00B0F6", "#E76BF3"]},
                        "legend": {"title": null, "labelFontSize": 18, "symbolSize": 60, "symbolType": "circle", "orient": "none", "legendX": 349, "legendY": 70, "rowPadding": 17, "labelOffset": 20}}
            }
          }
        ]
      }
    ]
  },
  {
    "spacing": 0,
    "resolve": {"scale": {"x": "independent", "y": "independent", "stroke": "independent"}, "legend": {"stroke": "independent"}},
    "hconcat": [
      {"width": 8, "height": 4, "data": {"values": []}, "mark": "point", "view": {"stroke": null}},
      {
        "title": {"text": "f", "offset": 0, "dx": -35},
        "resolve": {"scale": {"x": "independent", "y": "independent"}},
        "vconcat": [
          {
            "title": {"text": "Union origins", "fontSize": 17, "fontStyle": "italic", "fontWeight": "bold", "anchor": "start", "frame": "group", "offset": 10},
            "width": 314, "height": 308,
            "layer": [
              {
                "data": {"name": "fcurve"},
                "mark": {"type": "line", "color": "#000", "strokeWidth": 7.5, "strokeCap": "round", "strokeJoin": "round"},
                "encoding": {
                  "x": {"field": "rank", "type": "quantitative"},
                  "y": {"field": "score", "type": "quantitative"}
                }
              },
              {
                "data": {"name": "ftop"},
                "mark": {"type": "rule", "color": "#111", "strokeWidth": 0.8},
                "encoding": {
                  "x": {"field": "rank", "type": "quantitative"},
                  "y": {"field": "score", "type": "quantitative"},
                  "x2": {"field": "lx"},
                  "y2": {"field": "ly"}
                }
              },
              {
                "data": {"name": "ftop"},
                "mark": {"type": "circle", "color": "#FF0000", "size": 45, "opacity": 1},
                "encoding": {
                  "x": {"field": "rank", "type": "quantitative"},
                  "y": {"field": "score", "type": "quantitative"}
                }
              },
              {
                "data": {"name": "ftop"},
                "mark": {"type": "text", "align": "left", "baseline": "middle", "fontSize": 14, "dx": 1, "color": "#000"},
                "encoding": {
                  "x": {"field": "lx", "type": "quantitative"},
                  "y": {"field": "ly", "type": "quantitative"},
                  "text": {"field": "tf"}
                }
              }
            ],
            "encoding": {
              "x": {"type": "quantitative", "scale": {"domain": [-45, 955], "nice": false, "zero": false},
                    "axis": {"values": [0, 250, 500, 750], "labelAngle": -90, "labelFontSize": 15, "title": "TFs", "titleFontSize": 18, "titlePadding": 5}},
              "y": {"type": "quantitative", "scale": {"domain": [-0.235, 5.33], "nice": false, "zero": false},
                    "axis": {"values": [0, 1, 2, 3, 4, 5], "labelFontSize": 14, "labelPadding": 6, "title": "Bart score", "titleFontSize": 17, "titlePadding": 3}}
            }
          }
        ]
      },
      {"width": 72, "height": 4, "data": {"values": []}, "mark": "point", "view": {"stroke": null}},
      {
        "spacing": -8,
        "resolve": {"scale": {"x": "independent", "y": "independent", "stroke": "independent"}, "legend": {"stroke": "independent"}},
        "vconcat": [
          {"title": {"text": "g", "offset": 27, "dx": -53}, "width": 4, "height": 1, "data": {"values": []}, "mark": "point", "view": {"stroke": null}},
          {
            "title": {"text": "Histone modification enrichment of Rerep-seq union origins", "fontSize": 24, "fontWeight": "normal", "anchor": "middle", "frame": "group", "offset": 22, "dx": 12},
            "width": 724, "height": 264,
            "data": {"name": "g"},
            "layer": [
              {
                "mark": {"type": "rule", "strokeWidth": 1.5},
                "encoding": {
                  "y": {"field": "lower", "type": "quantitative"},
                  "y2": {"field": "upper"},
                  "stroke": {"field": "type", "type": "nominal", "scale": {"domain": ["active", "repressive"], "range": ["#FF0000", "#0000FF"]},
                             "legend": {"title": null, "orient": "none", "legendX": 751, "legendY": 112, "labelFontSize": 13, "symbolType": "M-0.9,-0.5H0.9V0.5H-0.9Z M-0.9,0H0.9 M0,-0.5V-1 M0,0.5V1", "symbolSize": 420, "symbolStrokeWidth": 1.5, "symbolFillColor": "white", "rowPadding": 5, "clipHeight": 20, "labelOffset": 10}}
                }
              },
              {
                "mark": {"type": "bar", "fill": "white", "strokeWidth": 1.5},
                "encoding": {
                  "y": {"field": "q1", "type": "quantitative"},
                  "y2": {"field": "q3"},
                  "stroke": {"field": "type", "type": "nominal"}
                }
              },
              {
                "mark": {"type": "bar", "fill": null, "strokeWidth": 3},
                "encoding": {
                  "y": {"field": "median", "type": "quantitative"},
                  "y2": {"field": "median"},
                  "stroke": {"field": "type", "type": "nominal"}
                }
              }
            ],
            "encoding": {
              "x": {"field": "mark", "type": "nominal", "sort": null, "scale": {"paddingInner": 0.25, "paddingOuter": 0.225},
                    "axis": {"labelAngle": -90, "labelFontSize": 12.5, "title": null}},
              "y": {"type": "quantitative", "scale": {"domain": [-12.25, -3.31], "nice": false, "zero": false},
                    "axis": {"values": [-10, -7.5, -5], "format": ".1f", "labelFontSize": 12, "labelPadding": 5, "title": "enrichment score", "titleFontSize": 14, "titlePadding": 6}}
            }
          }
        ]
      }
    ]
  }
]
}
